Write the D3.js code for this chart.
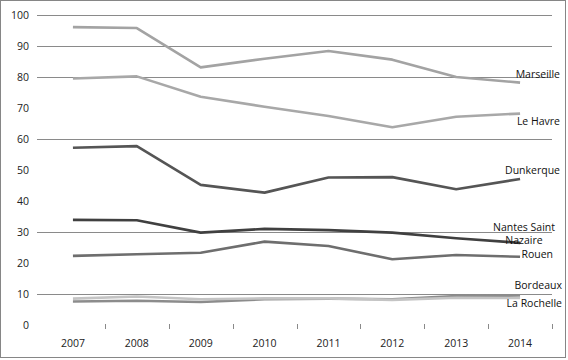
<!DOCTYPE html>
<html><head><meta charset="utf-8">
<script src="https://cdn.jsdelivr.net/npm/d3@7"></script>
<style>body{margin:0;background:#fff}svg{display:block}text{font-family:"Open Sans",sans-serif;}</style>
</head><body>
<script>
const years = ["2007","2008","2009","2010","2011","2012","2013","2014"];
const marseille   = [96.1, 95.8, 83.1, 85.9, 88.4, 85.6, 80.0, 78.2];
const leHavre     = [79.5, 80.2, 73.6, 70.4, 67.4, 63.8, 67.2, 68.2];
const dunkerque   = [57.2, 57.7, 45.2, 42.7, 47.6, 47.7, 43.8, 47.1];
const nantes      = [33.9, 33.8, 29.8, 31.0, 30.6, 29.8, 28.0, 26.5];
const rouen       = [22.3, 22.8, 23.3, 26.9, 25.5, 21.2, 22.6, 22.0];
const bordeaux    = [7.6, 7.8, 7.4, 8.3, 8.5, 8.3, 9.3, 9.5];
const laRochelle  = [8.5, 9.2, 8.3, 8.6, 8.6, 8.1, 8.8, 8.7];
const seriesNames = ["Marseille","Le Havre","Dunkerque","Nantes Saint Nazaire","Rouen","Bordeaux","La Rochelle"];
const yTicks = [0,10,20,30,40,50,60,70,80,90,100];
const gridValues = [10,30,60,80,90,100];

const series = [
  {name:"Marseille", values:marseille, color:"#a3a3a3", lines:["Marseille"], lx:560, dy:[-5], anchor:"end"},
  {name:"Le Havre", values:leHavre, color:"#a8a8a8", lines:["Le Havre"], lx:560, dy:[11], anchor:"end"},
  {name:"Dunkerque", values:dunkerque, color:"#555555", lines:["Dunkerque"], lx:560, dy:[-5], anchor:"end"},
  {name:"Nantes Saint Nazaire", values:nantes, color:"#404040", lines:["Nantes Saint","Nazaire"], lx:524, dy:[-11.5, 1.5], anchor:"middle"},
  {name:"Rouen", values:rouen, color:"#6e6e6e", lines:["Rouen"], lx:553, dy:[1], anchor:"end"},
  {name:"Bordeaux", values:bordeaux, color:"#8c8c8c", lines:["Bordeaux"], lx:562, dy:[-6.5], anchor:"end"},
  {name:"La Rochelle", values:laRochelle, color:"#c4c4c4", lines:["La Rochelle"], lx:562, dy:[9], anchor:"end"}
];

const W=568, H=360;
const svg = d3.select("body").append("svg").attr("width",W).attr("height",H);
svg.append("rect").attr("x",0.5).attr("y",0.5).attr("width",565).attr("height",357)
  .attr("fill","#fff").attr("stroke","#868686").attr("stroke-width",1);

const x = d3.scaleBand().domain(years).range([41,552]);
const y = d3.scaleLinear().domain([0,100]).range([325,15]);

svg.append("g").selectAll("line").data(gridValues).join("line")
  .attr("x1",37).attr("x2",552)
  .attr("y1",d=>Math.round(y(d))+0.5).attr("y2",d=>Math.round(y(d))+0.5)
  .attr("stroke","#8a8a8a").attr("stroke-width",1);

svg.append("g").selectAll("text").data(yTicks).join("text")
  .attr("x",29).attr("y",d=>y(d)+4).attr("text-anchor","end")
  .attr("font-size",10.5).attr("fill","#222").text(d=>d);

svg.append("g").selectAll("line").data(years).join("line")
  .attr("x1",d=>Math.round(x(d)+x.bandwidth())+0.5).attr("x2",d=>Math.round(x(d)+x.bandwidth())+0.5)
  .attr("y1",324).attr("y2",329).attr("stroke","#8a8a8a");

svg.append("g").selectAll("text").data(years).join("text")
  .attr("x",d=>x(d)+x.bandwidth()/2).attr("y",347).attr("text-anchor","middle")
  .attr("font-size",10.5).attr("fill","#222").text(d=>d);

const line = d3.line().x((d,i)=>x(years[i])+x.bandwidth()/2).y(d=>y(d));

const g = svg.append("g");
series.forEach(s=>{
  g.append("path").attr("d",line(s.values)).attr("fill","none")
    .attr("stroke",s.color).attr("stroke-width",2.6).attr("stroke-linejoin","round");
});
series.forEach(s=>{
  const ey = y(s.values[s.values.length-1]);
  s.lines.forEach((t,i)=>{
    svg.append("text").attr("x",s.lx).attr("y",ey+s.dy[i]).attr("text-anchor",s.anchor)
      .attr("font-size",10.5).attr("fill","#111").text(t);
  });
});
</script>
</body></html>
